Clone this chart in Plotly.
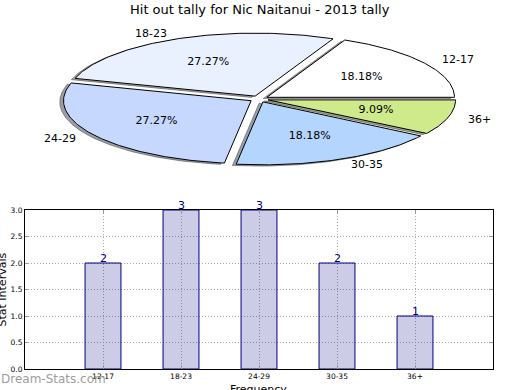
import numpy as np
import plotly.graph_objects as go

# ---- data ----
categories = ["12-17", "18-23", "24-29", "30-35", "36+"]
counts = [2, 3, 3, 2, 1]
slice_colors = ["#ffffff", "#eaf1fe", "#c6d8fe", "#b4d5fe", "#cfea8a"]
yticks = [0.0, 0.5, 1.0, 1.5, 2.0, 2.5, 3.0]

title = "Hit out tally for Nic Naitanui - 2013 tally"
FONT = "DejaVu Sans"
EXPLODE = 0.05
SHADOW_OFF = (-0.02, -0.02)

fig = go.Figure()

# ---- pie (elliptical, as drawn on non-equal aspect axes) ----
vals = np.array(counts, dtype=float)
fracs = vals / vals.sum()
edges = np.concatenate([[0], np.cumsum(fracs)]) * 360.0

def hex_to_rgb(h):
    h = h.lstrip("#")
    return tuple(int(h[i:i + 2], 16) for i in (0, 2, 4))

wedges = []
for i in range(len(categories)):
    t1, t2 = edges[i], edges[i + 1]
    tm = np.deg2rad((t1 + t2) / 2)
    ox, oy = EXPLODE * np.cos(tm), EXPLODE * np.sin(tm)
    th = np.deg2rad(np.linspace(t1, t2, 120))
    xs = np.concatenate([[ox], ox + np.cos(th), [ox]])
    ys = np.concatenate([[oy], oy + np.sin(th), [oy]])
    wedges.append((xs, ys, tm, ox, oy))

# shadows first
for i, (xs, ys, tm, ox, oy) in enumerate(wedges):
    r, g, b = hex_to_rgb(slice_colors[i])
    sc = f"rgba({int(r*0.3)},{int(g*0.3)},{int(b*0.3)},0.5)"
    fig.add_trace(go.Scatter(x=xs + SHADOW_OFF[0], y=ys + SHADOW_OFF[1], mode="lines",
                             fill="toself", fillcolor=sc, line=dict(color=sc, width=1),
                             xaxis="x2", yaxis="y2", hoverinfo="skip", showlegend=False))
for i, (xs, ys, tm, ox, oy) in enumerate(wedges):
    fig.add_trace(go.Scatter(x=xs, y=ys, mode="lines", fill="toself",
                             fillcolor=slice_colors[i], line=dict(color="black", width=1),
                             xaxis="x2", yaxis="y2", hoverinfo="skip", showlegend=False))

# percentage labels
px_, py_, pt_ = [], [], []
for i, (xs, ys, tm, ox, oy) in enumerate(wedges):
    px_.append(ox + 0.6 * np.cos(tm))
    py_.append(oy + 0.6 * np.sin(tm))
    pt_.append(f"{fracs[i]*100:.2f}%")
fig.add_trace(go.Scatter(x=px_, y=py_, mode="text", text=pt_,
                         textfont=dict(family=FONT, size=11, color="black"),
                         xaxis="x2", yaxis="y2", hoverinfo="skip", showlegend=False))

annotations = []
for i, (xs, ys, tm, ox, oy) in enumerate(wedges):
    lx = ox + 1.1 * np.cos(tm)
    ly = oy + 1.1 * np.sin(tm)
    annotations.append(dict(x=lx, y=ly, xref="x2", yref="y2", text=categories[i],
                            showarrow=False, xanchor="left" if lx > 0 else "right",
                            yanchor="middle", font=dict(family=FONT, size=11, color="black")))

# ---- bar chart ----
xi = list(range(len(categories)))
fig.add_trace(go.Bar(x=xi, y=counts, width=0.46,
                     marker=dict(color="rgba(0,0,128,0.2)", line=dict(color="navy", width=1)),
                     hoverinfo="skip", showlegend=False))
for i, c in enumerate(counts):
    annotations.append(dict(x=i, y=c, xref="x", yref="y", text=str(c), showarrow=False,
                            xanchor="center", yanchor="bottom", yshift=-4,
                            font=dict(family=FONT, size=11, color="navy")))

annotations += [
    dict(x=0.5, y=(390 - 9.5) / 390, xref="paper", yref="paper", yanchor="middle",
         text=title, showarrow=False, font=dict(family=FONT, size=13, color="black")),
    dict(x=1.5 / 520, y=(390 - 290) / 390, xref="paper", yref="paper", textangle=-90,
         text="Stat Intervals", showarrow=False, xanchor="center", yanchor="middle",
         font=dict(family=FONT, size=11, color="black")),
    dict(x=0.498, y=(390 - 389.5) / 390, xref="paper", yref="paper", yanchor="middle",
         text="Frequency", showarrow=False, font=dict(family=FONT, size=11, color="black")),
    dict(x=0, y=(390 - 379) / 390, xref="paper", yref="paper", xanchor="left", yanchor="middle",
         xshift=-1, text="Dream-Stats.com", showarrow=False,
         font=dict(family=FONT, size=12, color="rgba(130,130,130,0.8)")),
]

axis_common = dict(showgrid=True, gridcolor="#a8a8a8", griddash="1px,2px", gridwidth=1,
                   showline=True, linecolor="black", linewidth=1, mirror="ticks",
                   ticks="inside", ticklen=4, tickcolor="#999999", zeroline=False,
                   fixedrange=True, automargin=False,
                   tickfont=dict(family=FONT, size=7.5, color="black"))

fig.update_layout(
    template="none",
    width=520, height=390, autosize=False,
    margin=dict(l=0, r=0, t=0, b=0, pad=0, autoexpand=False),
    paper_bgcolor="white", plot_bgcolor="white", showlegend=False,
    font=dict(family=FONT),
    xaxis=dict(domain=[25 / 520, 493 / 520], range=[-1, 5], tickvals=xi, ticktext=categories,
               **axis_common),
    yaxis=dict(domain=[21 / 390, 180 / 390], range=[0, 3.0], tickvals=yticks,
               ticktext=[f"{v:.1f}" for v in yticks], **axis_common),
    xaxis2=dict(domain=[0, 1], range=[-259 / 187.6, 261 / 187.6], visible=False,
                fixedrange=True, automargin=False),
    yaxis2=dict(domain=[195 / 390, 1], range=[-96 / 63, 99 / 63], visible=False,
                fixedrange=True, automargin=False),
    annotations=annotations,
)

post = (
    "document.documentElement.style.margin='0';"
    "document.documentElement.style.overflow='hidden';"
    "document.body.style.margin='0';document.body.style.padding='0';"
    "document.body.style.overflow='hidden';"
    "var d=document.querySelector('.plotly-graph-div');"
    "if(d){d.style.position='fixed';d.style.top='0px';d.style.left='0px';}"
)
fig.write_html("out.html", config={"displayModeBar": False, "staticPlot": True,
                                   "responsive": False}, post_script=post)
